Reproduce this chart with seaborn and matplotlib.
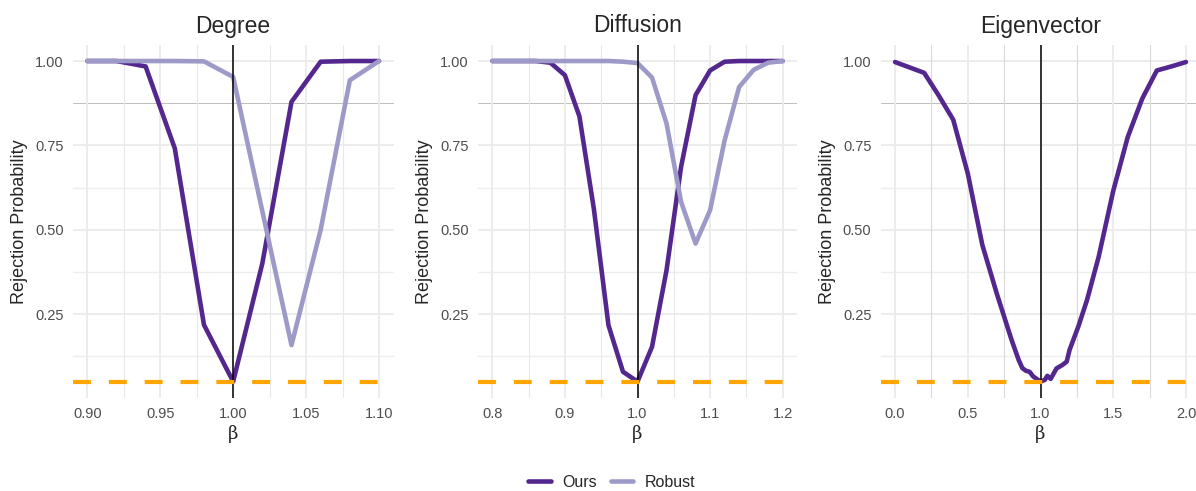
import numpy as np
import pandas as pd
import matplotlib
matplotlib.use("Agg")
import matplotlib.pyplot as plt
from matplotlib.lines import Line2D
import seaborn as sns

# ---- data -------------------------------------------------------------
degree_beta = [0.90, 0.92, 0.94, 0.96, 0.98, 1.00, 1.02, 1.04, 1.06, 1.08, 1.10]
degree_ours = [1.000, 1.000, 0.984, 0.741, 0.218, 0.050, 0.400, 0.879, 0.998, 1.000, 1.000]
degree_robust = [1.000, 1.000, 1.000, 1.000, 0.999, 0.953, 0.555, 0.158, 0.500, 0.943, 1.000]

diffusion_beta = [0.80, 0.82, 0.84, 0.86, 0.88, 0.90, 0.92, 0.94, 0.96, 0.98, 1.00,
                  1.02, 1.04, 1.06, 1.08, 1.10, 1.12, 1.14, 1.16, 1.18, 1.20]
diffusion_ours = [1.000, 1.000, 1.000, 1.000, 0.995, 0.958, 0.836, 0.560, 0.217, 0.079, 0.050,
                  0.153, 0.380, 0.686, 0.899, 0.972, 0.998, 1.000, 1.000, 1.000, 1.000]
diffusion_robust = [1.000, 1.000, 1.000, 1.000, 1.000, 1.000, 1.000, 1.000, 1.000, 0.998, 0.994,
                    0.951, 0.815, 0.583, 0.459, 0.558, 0.765, 0.923, 0.974, 0.995, 1.000]

eigen_beta = [0.00, 0.10, 0.20, 0.30, 0.40, 0.50, 0.60, 0.70, 0.80, 0.85, 0.875, 0.90,
              0.925, 0.95, 1.00, 1.03, 1.047, 1.07, 1.11, 1.15, 1.18, 1.20, 1.26, 1.32,
              1.40, 1.50, 1.60, 1.70, 1.80, 1.90, 2.00]
eigen_ours = [0.997, 0.981, 0.965, 0.898, 0.826, 0.667, 0.455, 0.310, 0.175, 0.114, 0.090, 0.082,
              0.079, 0.065, 0.050, 0.055, 0.067, 0.058, 0.089, 0.099, 0.109, 0.144, 0.213, 0.292,
              0.420, 0.615, 0.775, 0.889, 0.972, 0.984, 0.997]

nominal_level = 0.05
null_beta = 1.0

panels = ["Degree", "Diffusion", "Eigenvector"]
methods = ["Ours", "Robust"]
colors = {"Ours": "#54278F", "Robust": "#9E9AC8"}

frames = []
for name, xs, series in [
    ("Degree", degree_beta, {"Ours": degree_ours, "Robust": degree_robust}),
    ("Diffusion", diffusion_beta, {"Ours": diffusion_ours, "Robust": diffusion_robust}),
    ("Eigenvector", eigen_beta, {"Ours": eigen_ours}),
]:
    for m, ys in series.items():
        frames.append(pd.DataFrame({"panel": name, "method": m, "beta": xs, "prob": ys}))
df = pd.concat(frames, ignore_index=True)

# ---- style ------------------------------------------------------------
sns.set_theme(style="white")
plt.rcParams["font.family"] = ["Liberation Sans", "DejaVu Sans"]

fig = plt.figure(figsize=(11.96, 4.91), dpi=100)
W, H = 1196, 491
top, bottom = 45, 397.6
lefts = [72.7, 477.8, 880.5]
widths = [320.9, 319.4, 320.0]

xlims = {"Degree": (0.89, 1.11), "Diffusion": (0.78, 1.22), "Eigenvector": (-0.1, 2.1)}
xmajor = {"Degree": [0.90, 0.95, 1.00, 1.05, 1.10],
          "Diffusion": [0.8, 0.9, 1.0, 1.1, 1.2],
          "Eigenvector": [0.0, 0.5, 1.0, 1.5, 2.0]}
xfmt = {"Degree": "{:.2f}", "Diffusion": "{:.1f}", "Eigenvector": "{:.1f}"}
ymajor = [0.25, 0.50, 0.75, 1.00]
yminor = [0.125, 0.375, 0.625, 0.875]

for i, name in enumerate(panels):
    ax = fig.add_axes([lefts[i] / W, 1 - bottom / H, widths[i] / W, (bottom - top) / H])
    ax.set_facecolor("white")
    for s in ax.spines.values():
        s.set_visible(False)

    xl = xlims[name]
    ax.set_xlim(*xl)
    ax.set_ylim(0.0025, 1.0475)

    maj = xmajor[name]
    step = maj[1] - maj[0]
    xminor = [m + step / 2 for m in maj[:-1]]

    # grid lines
    for y in ymajor:
        ax.axhline(y, color="#EBEBEB", lw=1.3, zorder=0)
    for y in yminor:
        c = "#BDBDBD" if y == 0.875 else "#EDEDED"
        ax.axhline(y, color=c, lw=0.7 if y == 0.875 else 1.0, zorder=0)
    for x in maj:
        ax.axvline(x, color="#EBEBEB", lw=1.3, zorder=0)
    for x in xminor:
        ax.axvline(x, color="#D9D9D9" if name == "Eigenvector" else "#E8E8E8", lw=0.8, zorder=0)

    sub = df[df["panel"] == name]
    sns.lineplot(data=sub, x="beta", y="prob", hue="method",
                 hue_order=[m for m in methods if m in sub["method"].unique()],
                 palette=colors, lw=3.3, ax=ax, legend=False, estimator=None, sort=False, zorder=3)

    ax.axvline(null_beta, color="black", lw=1.1, zorder=4)
    ax.axhline(nominal_level, color="#FFA500", lw=3.0, dashes=(4.3, 4.3), zorder=5)

    ax.set_xticks(maj)
    ax.set_xticklabels([xfmt[name].format(v) for v in maj])
    ax.set_yticks(ymajor)
    ax.set_yticklabels(["{:.2f}".format(v) for v in ymajor])
    ax.tick_params(axis="both", length=0, labelsize=10.5, labelcolor="#4D4D4D", pad=6.5)
    ax.set_title(name, fontsize=16.5, pad=9)
    ax.set_ylabel("Rejection Probability", fontsize=13, labelpad=5)
    ax.set_xlabel("β", fontsize=13, family=["DejaVu Serif"], labelpad=3)

handles = [Line2D([0], [0], color=colors[m], lw=3.3) for m in methods]
fig.legend(handles, methods, loc="center", bbox_to_anchor=(612 / W, 1 - 482.5 / H), ncol=2,
           frameon=False, fontsize=11.5, handlelength=1.4, handletextpad=0.75, columnspacing=0.85)

fig.savefig("out.png", dpi=100, facecolor="white")
